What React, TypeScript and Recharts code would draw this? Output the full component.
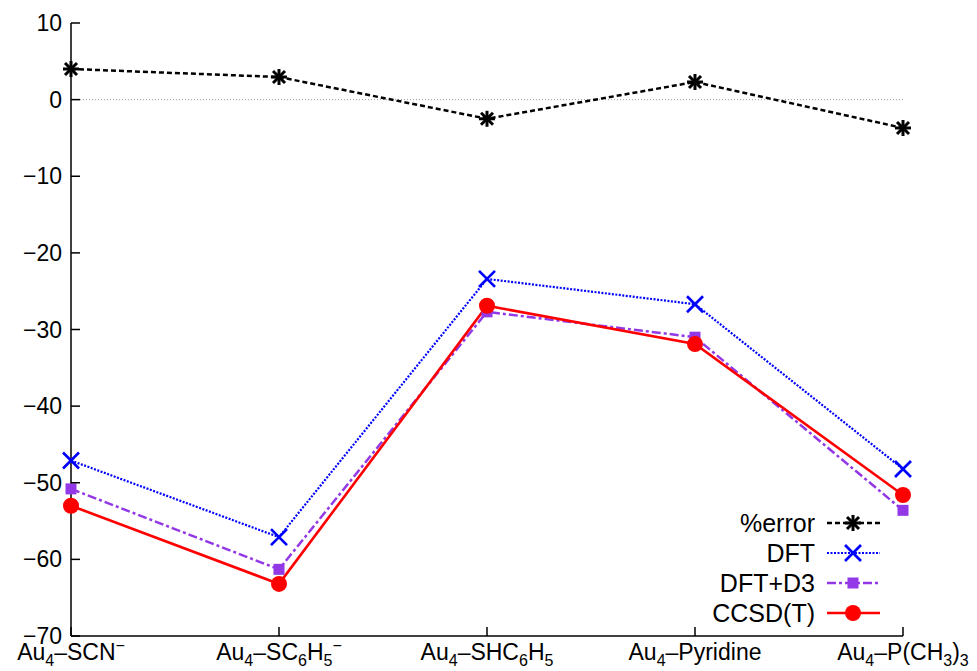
import React from 'react'
import { LineChart, Line, XAxis, YAxis, ReferenceLine, Legend } from 'recharts'

const categories = ['Au_4–SCN^−', 'Au_4–SC_6H_5^−', 'Au_4–SHC_6H_5', 'Au_4–Pyridine', 'Au_4–P(CH_3)_3']
const pctError = [4.0, 2.95, -2.5, 2.3, -3.7]
const dft = [-47.1, -57.1, -23.4, -26.7, -48.2]
const dftD3 = [-50.8, -61.3, -27.7, -31.0, -53.6]
const ccsdt = [-53.0, -63.2, -26.9, -31.9, -51.6]
const yTicks = [10, 0, -10, -20, -30, -40, -50, -60, -70]

const FONT = '"Liberation Sans", Arial, Helvetica, sans-serif'
const PURPLE = '#9338e6'

const data = categories.map((name, i) => ({
  name,
  err: pctError[i],
  dft: dft[i],
  d3: dftD3[i],
  cc: ccsdt[i],
}))

const fmt = (v: number) => (v < 0 ? '−' + Math.abs(v) : String(v))

// "_x" -> subscript, "^x" -> superscript
const richLabel = (s: string) => {
  const parts: React.ReactNode[] = []
  let buf = ''
  let shift = 0
  let k = 0
  const flush = () => {
    if (buf) {
      parts.push(<tspan key={k++} dy={-shift}>{buf}</tspan>)
      shift = 0
      buf = ''
    }
  }
  for (let i = 0; i < s.length; i++) {
    const c = s[i]
    if ((c === '_' || c === '^') && i + 1 < s.length) {
      flush()
      const d = c === '_' ? 6 : -9
      parts.push(
        <tspan key={k++} dy={d - shift} fontSize={16}>
          {s[i + 1]}
        </tspan>
      )
      shift = d
      i++
    } else {
      buf += c
    }
  }
  flush()
  return parts
}

const LeftTick = (props: any) => {
  const { x, y, payload } = props
  return (
    <g>
      <line x1={x} x2={x + 9} y1={y} y2={y} stroke="#000" strokeWidth={1.5} />
      <text x={x - 9} y={y} dy={8} textAnchor="end" fontSize={23} fontFamily={FONT} fill="#000">
        {fmt(payload.value)}
      </text>
    </g>
  )
}

const RightTick = (props: any) => {
  const { x, y } = props
  return <line x1={x} x2={x - 9} y1={y} y2={y} stroke="#000" strokeWidth={1.5} />
}

const BottomTick = (props: any) => {
  const { x, y, payload } = props
  return (
    <g>
      <line x1={x} x2={x} y1={y} y2={y - 9} stroke="#000" strokeWidth={1.5} />
      <text x={x} y={y + 24} textAnchor="middle" fontSize={23} fontFamily={FONT} fill="#000">
        {richLabel(payload.value)}
      </text>
    </g>
  )
}

const TopTick = (props: any) => {
  const { x, y } = props
  return <line x1={x} x2={x} y1={y} y2={y + 9} stroke="#000" strokeWidth={1.5} />
}

const Star = ({ cx, cy }: any) => (
  <g stroke="#000" strokeWidth={3}>
    <line x1={cx - 8} x2={cx + 8} y1={cy} y2={cy} />
    <line x1={cx} x2={cx} y1={cy - 8} y2={cy + 8} />
    <line x1={cx - 6} x2={cx + 6} y1={cy - 6} y2={cy + 6} />
    <line x1={cx - 6} x2={cx + 6} y1={cy + 6} y2={cy - 6} />
  </g>
)

const Cross = ({ cx, cy }: any) => (
  <g stroke="#0000ff" strokeWidth={2.6}>
    <line x1={cx - 8} x2={cx + 8} y1={cy - 8} y2={cy + 8} />
    <line x1={cx - 8} x2={cx + 8} y1={cy + 8} y2={cy - 8} />
  </g>
)

const Square = ({ cx, cy }: any) => <rect x={cx - 5.5} y={cy - 5.5} width={11} height={11} fill={PURPLE} />

const Dot = ({ cx, cy }: any) => <circle cx={cx} cy={cy} r={8} fill="#ff0000" />

const legendRows = [
  { label: '%error', color: '#000', dash: '5 3', width: 2.5, Marker: Star },
  { label: 'DFT', color: '#0000ff', dash: '2 1.5', width: 2.2, Marker: Cross },
  { label: 'DFT+D3', color: PURPLE, dash: '9 3 3 3', width: 2.5, Marker: Square },
  { label: 'CCSD(T)', color: '#ff0000', dash: undefined, width: 2.6, Marker: Dot },
]

const KeyBox = () => (
  <svg width={200} height={130}>
    {legendRows.map((r, i) => {
      const cy = 18 + i * 30
      const M = r.Marker
      return (
        <g key={r.label}>
          <text x={115} y={cy + 9} textAnchor="end" fontSize={25} fontFamily={FONT} fill="#000">
            {r.label}
          </text>
          <line x1={127} x2={180} y1={cy} y2={cy} stroke={r.color} strokeWidth={r.width} strokeDasharray={r.dash} />
          <M cx={153} cy={cy} />
        </g>
      )
    })}
  </svg>
)

export default function App() {
  return (
    <div style={{ position: 'absolute', left: 0, top: 0, background: '#fff' }}>
      <LineChart width={977} height={671} data={data} margin={{ top: 23, right: 74, left: 0, bottom: 0 }}>
        <XAxis
          dataKey="name"
          height={35}
          interval={0}
          tickSize={0}
          tickMargin={0}
          tick={<BottomTick />}
          axisLine={{ stroke: '#000', strokeWidth: 1.5 }}
        />
        <XAxis
          xAxisId="top"
          orientation="top"
          dataKey="name"
          height={0}
          interval={0}
          tickSize={0}
          tickMargin={0}
          tick={<TopTick />}
          axisLine={{ stroke: '#000', strokeWidth: 1.5 }}
        />
        <YAxis
          width={71}
          domain={[-70, 10]}
          ticks={yTicks}
          interval={0}
          tickSize={0}
          tickMargin={0}
          tick={<LeftTick />}
          axisLine={{ stroke: '#000', strokeWidth: 1.5 }}
        />
        <YAxis
          yAxisId="right"
          orientation="right"
          width={0}
          domain={[-70, 10]}
          ticks={yTicks}
          interval={0}
          tickSize={0}
          tickMargin={0}
          tick={<RightTick />}
          axisLine={{ stroke: '#000', strokeWidth: 1.5 }}
        />
        <ReferenceLine y={0} stroke="#999" strokeDasharray="1 2" strokeWidth={1} />
        <Legend
          layout="horizontal"
          verticalAlign="middle"
          content={<KeyBox />}
          wrapperStyle={{ position: 'absolute', left: 700, top: 505, width: 200, height: 130 }}
        />
        <Line
          dataKey="err"
          name="%error"
          stroke="#000"
          strokeWidth={2.5}
          strokeDasharray="5 3"
          dot={(p: any) => <Star key={p.index} cx={p.cx} cy={p.cy} />}
          isAnimationActive={false}
        />
        <Line
          dataKey="dft"
          name="DFT"
          stroke="#0000ff"
          strokeWidth={2.2}
          strokeDasharray="2 1.5"
          dot={(p: any) => <Cross key={p.index} cx={p.cx} cy={p.cy} />}
          isAnimationActive={false}
        />
        <Line
          dataKey="d3"
          name="DFT+D3"
          stroke={PURPLE}
          strokeWidth={2.5}
          strokeDasharray="9 3 3 3"
          dot={(p: any) => <Square key={p.index} cx={p.cx} cy={p.cy} />}
          isAnimationActive={false}
        />
        <Line
          dataKey="cc"
          name="CCSD(T)"
          stroke="#ff0000"
          strokeWidth={2.6}
          dot={(p: any) => <Dot key={p.index} cx={p.cx} cy={p.cy} />}
          isAnimationActive={false}
        />
      </LineChart>
    </div>
  )
}
